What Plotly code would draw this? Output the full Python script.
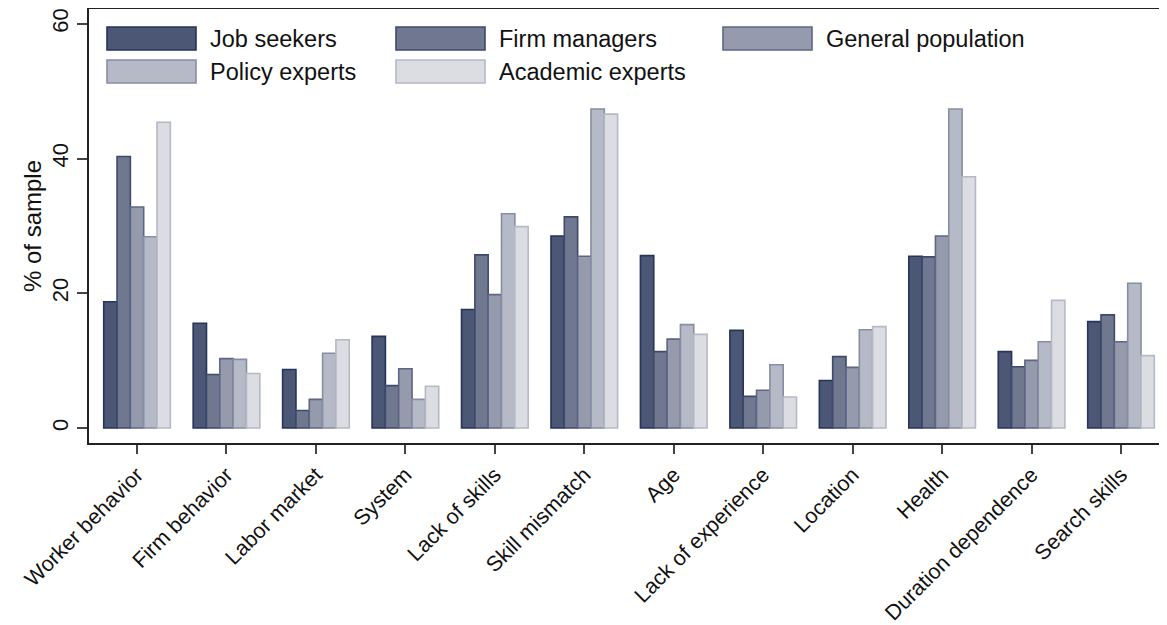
import plotly.graph_objects as go

categories = ["Worker behavior", "Firm behavior", "Labor market", "System",
              "Lack of skills", "Skill mismatch", "Age", "Lack of experience",
              "Location", "Health", "Duration dependence", "Search skills"]
series_names = ["Job seekers", "Firm managers", "General population",
                "Policy experts", "Academic experts"]
job_seekers = [18.75, 15.55, 8.7, 13.6, 17.6, 28.5, 25.6, 14.5, 7.05, 25.5, 11.35, 15.8]
firm_managers = [40.3, 7.95, 2.6, 6.3, 25.7, 31.35, 11.35, 4.7, 10.6, 25.4, 9.1, 16.8]
general_population = [32.8, 10.3, 4.25, 8.8, 19.8, 25.5, 13.2, 5.6, 9.0, 28.5, 10.05, 12.8]
policy_experts = [28.4, 10.2, 11.1, 4.25, 31.8, 47.35, 15.35, 9.4, 14.6, 47.35, 12.8, 21.5]
academic_experts = [45.4, 8.1, 13.1, 6.2, 29.9, 46.6, 13.9, 4.6, 15.05, 37.3, 18.95, 10.75]
y_ticks = [0, 20, 40, 60]

series_values = [job_seekers, firm_managers, general_population, policy_experts, academic_experts]
fills = ["#4c5775", "#707890", "#959bac", "#b6bac6", "#dcdde2"]
lines = ["#26345a", "#3e4a6a", "#5d6784", "#878ea3", "#b5b9c6"]

FONT = "Liberation Sans, Arial, sans-serif"
OFF = 8  # default page margin of the html body
W, H = 1167 - OFF, 625 - OFF
ML, MT, MB, MR = 81, 1, 182, 0
PW = W - ML - MR
PH = H - MT - MB

fig = go.Figure()
for name, vals, fc, lc in zip(series_names, series_values, fills, lines):
    fig.add_trace(go.Bar(x=categories, y=vals, name=name, showlegend=False,
                         marker=dict(color=fc, line=dict(color=lc, width=1.6))))

def px_x(p):
    return (p - OFF - ML) / PW

def px_y(p):
    return (H - MB - (p - OFF)) / PH

# custom legend (wide key rectangles like the reference)
legend_pos = [(107, 27), (396, 27), (723, 27), (107, 60), (396, 60)]
shapes = []
annotations = []
for (lx, ly), name, fc, lc in zip(legend_pos, series_names, fills, lines):
    shapes.append(dict(type="rect", xref="paper", yref="paper",
                       x0=px_x(lx), x1=px_x(lx + 89), y0=px_y(ly + 23), y1=px_y(ly),
                       fillcolor=fc, line=dict(color=lc, width=1.6), layer="above"))
    annotations.append(dict(xref="paper", yref="paper", x=px_x(lx + 101), y=px_y(ly + 12),
                            text=name, showarrow=False, xanchor="left", yanchor="middle",
                            font=dict(family=FONT, size=23.5, color="#111")))

fig.update_layout(
    width=W, height=H,
    margin=dict(l=ML, r=MR, t=MT, b=MB, pad=0),
    plot_bgcolor="white", paper_bgcolor="white",
    barmode="group", bargap=0.255, bargroupgap=0,
    font=dict(family=FONT, size=22, color="#111"),
    shapes=shapes, annotations=annotations,
    xaxis=dict(range=[-0.537, 11.514], showline=True, linecolor="#222", linewidth=1.5,
               mirror=True, ticks="outside", ticklen=9, tickcolor="#444", tickwidth=1.5,
               tickangle=-45, showgrid=False, tickfont=dict(size=21.5), automargin=False),
    yaxis=dict(range=[-2.22, 62.2], tickvals=y_ticks, showline=True, linecolor="#222",
               linewidth=1.5, ticks="outside", ticklen=10, tickcolor="#444", tickwidth=1.5,
               tickangle=-90, showgrid=False, zeroline=False, tickfont=dict(size=22),
               automargin=False,
               title=dict(text="% of sample", font=dict(size=24), standoff=0)),
)

fig.write_html("out.html")
